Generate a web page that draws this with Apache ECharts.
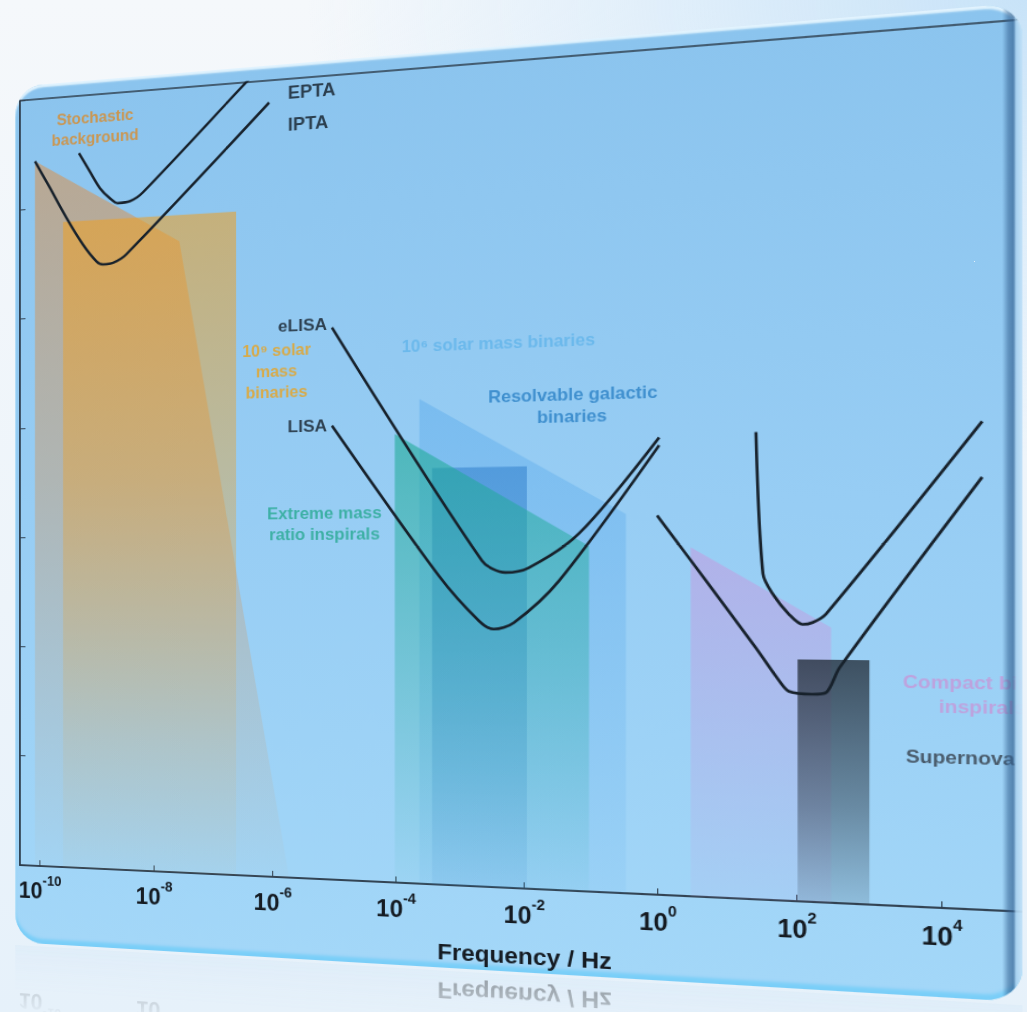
<!DOCTYPE html>
<html>
<head>
<meta charset="utf-8">
<title>Gravitational wave spectrum</title>
<script src="https://cdn.jsdelivr.net/npm/echarts@6/dist/echarts.min.js"></script>
<style>
  html, body { margin: 0; padding: 0; width: 1027px; height: 1012px; overflow: hidden; }
  body {
    background:
      radial-gradient(ellipse 70% 45% at 100% 0%, #c8e3f8 0%, rgba(214,234,250,0.6) 55%, rgba(240,246,251,0) 100%),
      linear-gradient(to bottom, #f5f8fb 0%, #edf4fa 60%, #e6f1fa 100%);
  }
  #stage { position: absolute; left: 0; top: 0; width: 1000px; height: 1000px; transform-origin: 0 0; }
  #panel {
    position: absolute; left: 35px; top: 25px; width: 931px; height: 896px;
    border-radius: 30px; overflow: hidden;
    background: linear-gradient(to bottom, #8bc4ee 0%, #97cdf4 50%, #a3d7f8 100%);
    box-shadow: inset 0 3px 2px rgba(235,248,255,.9), inset 0 -5px 3px rgba(120,205,248,.95);
  }
  #chart { position: absolute; left: -35px; top: -25px; width: 1000px; height: 1000px; }
  #rim {
    position: absolute; right: 0; top: 0; bottom: 0; width: 16px; pointer-events: none;
    background: linear-gradient(to left, rgba(196,226,248,.95) 0, rgba(170,210,240,.9) 5px, rgba(52,98,146,.7) 7px, rgba(52,98,146,.55) 11px, rgba(60,110,160,0) 16px);
  }
  /* faint mirror image of the lower edge */
  #mirrorBox {
    position: absolute; left: 35px; top: 924px; width: 931px; height: 76px; overflow: hidden;
    border-radius: 0 0 30px 30px;
    background: linear-gradient(to bottom, rgba(150,200,240,.22), rgba(150,200,240,0) 70%);
    -webkit-mask-image: linear-gradient(to bottom, rgba(0,0,0,.9), rgba(0,0,0,0) 95%);
    opacity: .45;
  }
  #mirror { position: absolute; left: -35px; top: -924px; width: 1000px; height: 1000px; transform-origin: 0 924px; transform: scaleY(-1); }
</style>
</head>
<body>
<div id="stage">
  <div id="panel"><div id="chart"></div><div id="rim"></div></div>
  <div id="mirrorBox"><div id="mirror"></div></div>
</div>
<script>
const fontFam = '"Liberation Sans Narrow","Arial Narrow","Liberation Sans",Arial,sans-serif'

// x = log10(frequency / Hz), y = log10(characteristic strain)
const freqTicks = [-10, -8, -6, -4, -2, 0, 2, 4]
const mirroredTicks = [-10, -8]

// sensitivity curves
const eptaCurve = [[-9.31, -11.04], [-9.12, -11.38], [-8.94, -11.70], [-8.77, -11.89], [-8.63, -11.99], [-8.42, -11.97], [-8.20, -11.83], [-6.50, -10.06], [-6.30, -9.85]]
const iptaCurve = [[-10.09, -11.13], [-9.82, -11.64], [-9.53, -12.20], [-9.24, -12.70], [-9.00, -13.02], [-8.89, -13.08], [-8.71, -13.06], [-8.48, -12.92], [-6.06, -10.39]]
const elisaCurve = [[-5.03, -14.39], [-2.65, -18.46], [-2.29, -18.66], [-1.93, -18.58], [-1.17, -18.01], [0.02, -16.43]]
const lisaCurve = [[-5.03, -16.10], [-3.32, -18.72], [-2.70, -19.48], [-2.47, -19.62], [-2.16, -19.51], [-1.47, -18.80], [0.02, -16.56]]
const ligoCurve = [[1.42, -16.38], [1.52, -18.69], [1.66, -19.02], [1.89, -19.35], [2.08, -19.51], [2.22, -19.48], [2.41, -19.34], [4.54, -16.29]]
const aligoCurve = [[-0.01, -17.72], [0.70, -18.80], [1.42, -19.90], [1.75, -20.43], [1.89, -20.60], [2.22, -20.64], [2.41, -20.61], [2.60, -20.20], [4.54, -17.17]]

// source regions (upper outline, filled down to the axis)
const stochasticBand = [[-10.09, -11.13], [-7.57, -12.74], [-5.73, -24]]
const ptaBinaryBand = [[-9.59, -12.27], [-6.61, -12.27]]
const smbhBand = [[-3.63, -15.68], [-0.47, -17.69]]
const galacticBand = [[-3.43, -16.87], [-1.96, -16.87]]
const emriBand = [[-4.02, -16.27], [-1.02, -18.22]]
const compactBand = [[0.48, -18.25], [2.48, -19.56]]
const supernovaBand = [[2.01, -20.08], [3.01, -20.08]]

const notes = [
  {text: 'Stochastic\nbackground', at: [-9.03, -10.58], color: '#d98b2b', size: 16, align: 'center'},
  {text: 'EPTA', at: [-5.75, -10.24], color: '#131d27', size: 18, align: 'left'},
  {text: 'IPTA', at: [-5.75, -10.80], color: '#131d27', size: 18, align: 'left'},
  {text: 'eLISA', at: [-5.11, -14.32], color: '#131d27', size: 17, align: 'right'},
  {text: 'LISA', at: [-5.11, -16.10], color: '#131d27', size: 17, align: 'right'},
  {text: '10⁹ solar\nmass\nbinaries', at: [-5.94, -15.11], color: '#e9a21f', size: 16, align: 'center'},
  {text: '10⁶ solar mass binaries', at: [-2.42, -14.77], color: '#62b4ea', size: 16, align: 'center'},
  {text: 'Resolvable galactic\nbinaries', at: [-1.28, -15.86], color: '#2b81c5', size: 16.5, align: 'center'},
  {text: 'Extreme mass\nratio inspirals', at: [-5.16, -17.79], color: '#27a991', size: 16.5, align: 'center'},
  {text: 'Compact binary\ninspirals', at: [4.54, -20.61], color: '#c697d8', size: 17, align: 'center'},
  {text: 'Supernova', at: [3.51, -21.61], color: '#343d49', size: 17, align: 'left'}
]

const band = (name, pts, rgb, stops, z) => ({
  name,
  type: 'line',
  data: pts,
  symbol: 'none',
  silent: true,
  z,
  lineStyle: {width: 0, opacity: 0},
  areaStyle: {
    origin: 'start',
    opacity: 1,
    color: new echarts.graphic.LinearGradient(0, 0, 0, 1, stops.map(s => ({offset: s[0], color: `rgba(${rgb},${s[1]})`})))
  }
})

const curve = (name, pts) => ({
  name,
  type: 'line',
  data: pts,
  symbol: 'none',
  smooth: 0.3,
  silent: true,
  z: 10,
  lineStyle: {color: '#17212b', width: 2.6}
})

const axisDark = '#2c3b4a'
const gridBox = {left: 40, top: 40, width: 939.6, height: 800}

const tickLabel = ticks => ({
  customValues: ticks,
  margin: 8,
  formatter: v => `{b|10}{s|${v}}`,
  rich: {
    b: {fontSize: 23, fontWeight: 'bold', fontFamily: fontFam, color: '#151b22', verticalAlign: 'bottom', lineHeight: 30},
    s: {fontSize: 14, fontWeight: 'bold', fontFamily: fontFam, color: '#151b22', verticalAlign: 'top', lineHeight: 16}
  }
})

const xAxisOpt = {
  type: 'value',
  min: -10.36,
  max: 5.3,
  name: 'Frequency / Hz',
  nameLocation: 'middle',
  nameGap: 53,
  nameTextStyle: {fontSize: 22.5, fontWeight: 'bold', color: '#151b22', fontFamily: fontFam, padding: [0, 0, 0, 62]},
  axisLine: {onZero: false, lineStyle: {color: axisDark, width: 1.5}},
  axisTick: {customValues: freqTicks, inside: true, length: 6, lineStyle: {color: axisDark}},
  splitLine: {show: false},
  axisLabel: tickLabel(freqTicks)
}
const yAxisOpt = {
  type: 'value',
  min: -24,
  max: -10,
  interval: 2,
  axisLine: {show: true, onZero: false, lineStyle: {color: axisDark, width: 1.5}},
  axisTick: {show: true, inside: true, length: 6, lineStyle: {color: axisDark}},
  axisLabel: {show: false},
  splitLine: {show: false}
}

const chart = echarts.init(document.getElementById('chart'), null, {renderer: 'svg'})
chart.setOption({
  animation: false,
  grid: {...gridBox, show: true, borderColor: axisDark, borderWidth: 1.5, backgroundColor: 'transparent'},
  xAxis: xAxisOpt,
  yAxis: yAxisOpt,
  series: [
    band('Stochastic background', stochasticBand, '210,150,92', [[0, 0.62], [0.45, 0.42], [1, 0.03]], 1),
    band('Supermassive binaries (PTA)', ptaBinaryBand, '236,160,40', [[0, 0.58], [0.4, 0.4], [0.8, 0.12], [1, 0.03]], 2),
    band('Massive binaries', smbhBand, '90,170,235', [[0, 0.45], [1, 0.1]], 2),
    band('Resolvable galactic binaries', galacticBand, '40,120,200', [[0, 0.5], [1, 0.08]], 3),
    band('Extreme mass ratio inspirals', emriBand, '30,170,150', [[0, 0.6], [0.55, 0.3], [1, 0.04]], 4),
    band('Compact binary inspirals', compactBand, '192,160,226', [[0, 0.62], [1, 0.12]], 2),
    band('Supernova', supernovaBand, '38,48,60', [[0, 0.8], [0.6, 0.45], [1, 0.15]], 3),
    curve('EPTA', eptaCurve),
    curve('IPTA', iptaCurve),
    curve('eLISA', elisaCurve),
    curve('LISA', lisaCurve),
    curve('LIGO', ligoCurve),
    curve('Advanced LIGO', aligoCurve),
    {
      type: 'scatter',
      symbolSize: 0,
      silent: true,
      clip: false,
      z: 20,
      label: {show: true, position: [0, 0], verticalAlign: 'middle', fontWeight: 'bold', fontFamily: fontFam},
      data: notes.map(n => ({
        value: n.at,
        label: {formatter: n.text, color: n.color, fontSize: n.size, align: n.align, lineHeight: Math.round(n.size * 1.3)}
      }))
    }
  ]
})

// reflection: the same frequency axis, flipped by CSS under the panel
const mirror = echarts.init(document.getElementById('mirror'), null, {renderer: 'svg'})
mirror.setOption({
  animation: false,
  grid: gridBox,
  xAxis: {...xAxisOpt, axisLine: {show: false}, axisTick: {show: false}, axisLabel: tickLabel(mirroredTicks)},
  yAxis: {...yAxisOpt, axisLine: {show: false}, axisTick: {show: false}},
  series: []
})

// perspective: map the flat plot frame onto the tilted panel of the picture
const solve = (A, b) => {
  const n = b.length
  const M = A.map((r, i) => [...r, b[i]])
  for (let c = 0; c < n; c++) {
    let p = c
    for (let r = c + 1; r < n; r++) if (Math.abs(M[r][c]) > Math.abs(M[p][c])) p = r
    ;[M[c], M[p]] = [M[p], M[c]]
    for (let r = 0; r < n; r++) {
      if (r === c) continue
      const f = M[r][c] / M[c][c]
      for (let k = c; k <= n; k++) M[r][k] -= f * M[c][k]
    }
  }
  return M.map((r, i) => r[n] / r[i])
}
const src = [[-10, -24], [4, -24], [4, -10], [-10, -10]].map(p => chart.convertToPixel({gridIndex: 0}, p))
const dst = [[40, 866], [942, 908], [942, 26], [40, 99]]
const A = [], b = []
src.forEach(([x, y], i) => {
  const [X, Y] = dst[i]
  A.push([x, y, 1, 0, 0, 0, -x * X, -y * X]); b.push(X)
  A.push([0, 0, 0, x, y, 1, -x * Y, -y * Y]); b.push(Y)
})
const [ha, hb, hc, hd, he, hf, hg, hh] = solve(A, b)
document.getElementById('stage').style.transform =
  `matrix3d(${ha},${hd},0,${hg},${hb},${he},0,${hh},0,0,1,0,${hc},${hf},0,1)`
</script>
</body>
</html>
